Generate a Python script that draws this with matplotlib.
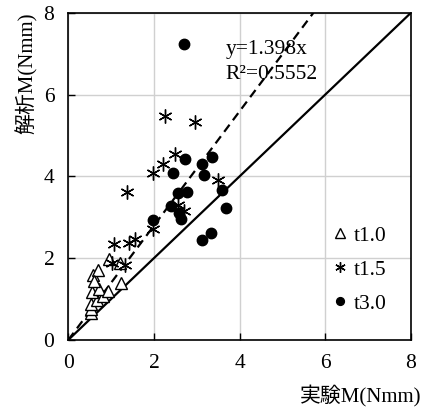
import matplotlib
matplotlib.use("Agg")
import matplotlib.pyplot as plt
import numpy as np

plt.rcParams["font.family"] = ["Liberation Serif", "Noto Sans CJK JP"]

# t1.0 (triangles)
t10_x = [0.52, 0.53, 0.54, 0.66, 0.80, 0.55, 0.72, 0.92, 1.22, 0.58, 0.70, 0.96, 1.20, 0.60]
t10_y = [0.66, 0.76, 0.88, 0.98, 1.08, 1.18, 1.25, 1.20, 1.38, 1.58, 1.72, 1.97, 1.88, 1.45]

# t1.5 (stars)
t15_x = [2.25, 2.95, 1.37, 2.49, 2.20, 1.97, 3.49, 2.56, 2.70, 1.97, 1.07, 1.41, 1.55, 1.01, 1.32]
t15_y = [5.47, 5.34, 3.61, 4.54, 4.30, 4.07, 3.91, 3.29, 3.16, 2.70, 2.35, 2.37, 2.47, 1.88, 1.84]

# t3.0 (filled circles)
t30_x = [2.70, 2.72, 2.45, 3.11, 3.36, 3.17, 2.56, 2.76, 3.59, 2.39, 2.58, 2.63, 1.98, 3.68, 3.13, 3.34]
t30_y = [7.24, 4.42, 4.07, 4.31, 4.48, 4.03, 3.60, 3.62, 3.67, 3.27, 3.11, 2.95, 2.93, 3.22, 2.45, 2.62]

slope = 1.398
r2 = 0.5552
ticks = [0, 2, 4, 6, 8]

fig = plt.figure(figsize=(4.23, 4.12), dpi=100)
ax = fig.add_axes([0.1615, 0.175, 0.810, 0.794])

ax.grid(True, color="#d0d0d0", linewidth=1.0)
ax.set_axisbelow(True)

lim = np.array([0, 8])
# 1:1 line and regression line y = slope * x
ax.plot(lim, lim, color="black", linewidth=1.6, zorder=2)
ax.plot(lim / slope, lim, color="black", linewidth=1.6,
        linestyle=(0, (4, 2.5)), zorder=2)

ax.plot(t10_x, t10_y, linestyle="none", marker="^", markersize=9,
        markerfacecolor="white", markeredgecolor="black", markeredgewidth=1.0,
        label="t1.0", zorder=3)
ax.plot(t15_x, t15_y, linestyle="none", marker=(6, 2, 0), markersize=10,
        color="black", markeredgewidth=1.0, label="t1.5", zorder=3)
ax.plot(t30_x, t30_y, linestyle="none", marker="o", markersize=7.5,
        color="black", label="t3.0", zorder=4)

ax.text(3.68, 6.99, f"y={slope}x", fontsize=15.5, ha="left", va="baseline")
ax.text(3.68, 6.37, f"R²={r2}", fontsize=15.5, ha="left", va="baseline")

ax.set_xlim(0, 8)
ax.set_ylim(0, 8)
ax.set_xticks(ticks)
ax.set_yticks(ticks)
ax.tick_params(direction="in", length=5, width=1, labelsize=15.5, pad=10,
               top=False, right=False)
for s in ax.spines.values():
    s.set_linewidth(1.2)

ax.set_xlabel("実験M(Nmm)", fontsize=15, loc="right")
ax.set_ylabel("解析M(Nmm)", fontsize=15, loc="top", labelpad=4)
ax.xaxis.set_label_coords(1.03, -0.135, transform=ax.transAxes)

ax.legend(loc="upper left", bbox_to_anchor=(0.745, 0.375), frameon=False,
          fontsize=15.5, handlelength=0.7, handletextpad=0.3, labelspacing=0.65,
          markerscale=0.75, borderaxespad=0)

fig.savefig("out.png", dpi=100)
